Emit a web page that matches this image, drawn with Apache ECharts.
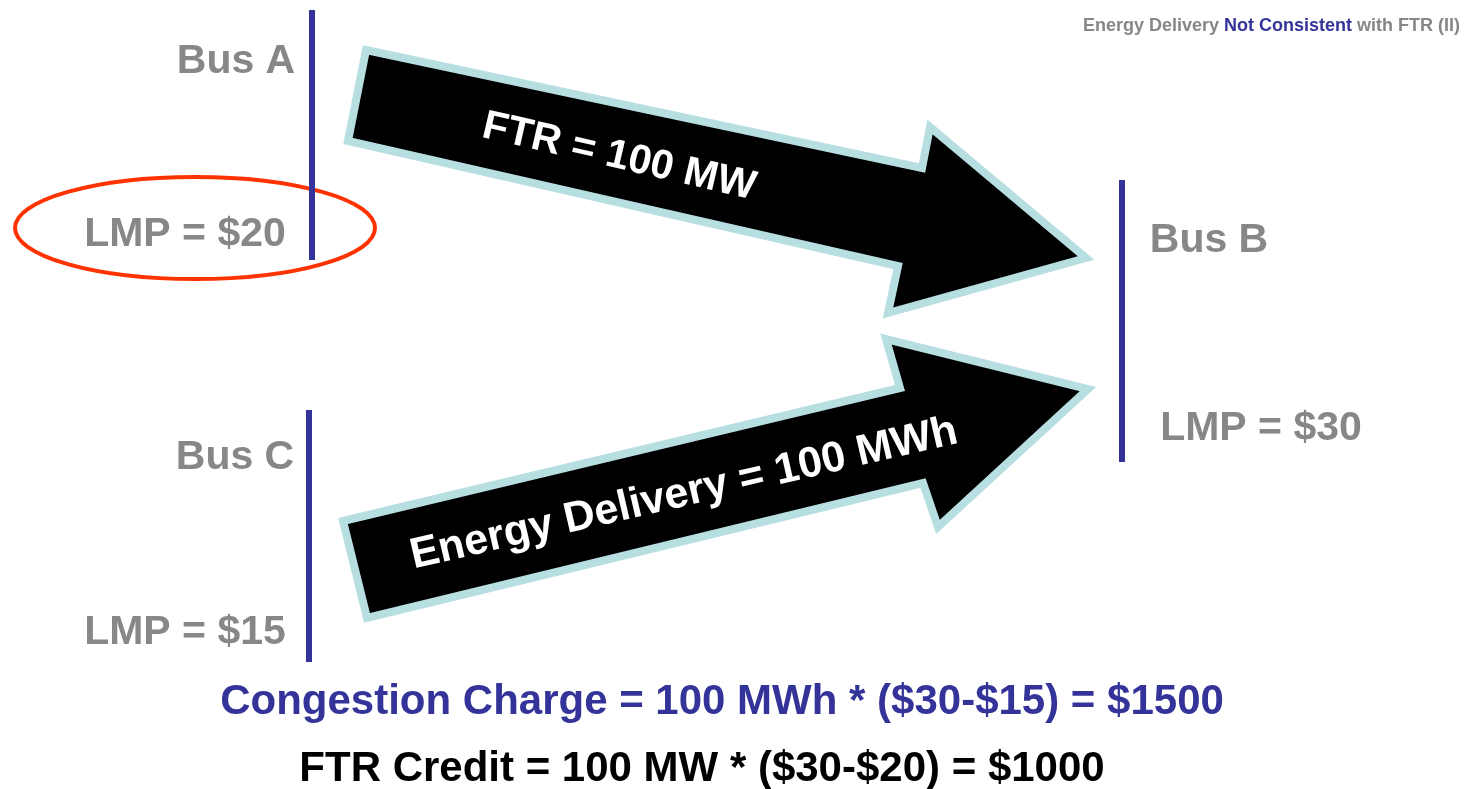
<!DOCTYPE html>
<html>
<head>
<meta charset="utf-8">
<script src="https://cdn.jsdelivr.net/npm/echarts@6/dist/echarts.min.js"></script>
<style>
  html, body { margin: 0; padding: 0; background: #fff; }
  #main { width: 1470px; height: 789px; }
</style>
</head>
<body>
<div id="main"></div>
<script>
    // buses and their prices
    var busNames = ['Bus A', 'Bus B', 'Bus C']
    var busLmp = [20, 30, 15]
    var busLineX = [312, 1122, 309]
    var busLineTop = [10, 180, 410]
    var busLineBottom = [260, 462, 662]
    var busNameAt = [[236, 62], [1209, 241], [235, 458]]
    var lmpAt = [[185, 235], [1261, 429], [185, 633]]

    // flows
    var ftrMW = 100
    var deliveryMWh = 100
    var ftrArrow = [[366, 50], [922, 168], [930, 127], [1086, 258], [888, 313], [898, 266], [348, 141]]
    var deliveryArrow = [[343, 521], [900, 388], [886, 339], [1088, 389], [938, 527], [923, 483], [367, 618]]
    var arrowLabelAt = [[619, 157], [684, 494]]
    var arrowLabelAngle = [-13, 13]

    // red ring round the source LMP: cx, cy, rx, ry
    var highlight = [195, 228, 180, 51]

    var FONT = "'Liberation Sans', Arial, sans-serif"
    var GRAY = '#878787'
    var BLUE = '#333399'

    var myChart = echarts.init(document.getElementById('main'))

    var arrows = [
        { pts: ftrArrow, text: 'FTR = ' + ftrMW + ' MW', size: 41 },
        { pts: deliveryArrow, text: 'Energy Delivery = ' + deliveryMWh + ' MWh', size: 43 }
    ]

    var congestion = deliveryMWh * (busLmp[1] - busLmp[2])
    var credit = ftrMW * (busLmp[1] - busLmp[0])

    var option = {
        animation: false,
        backgroundColor: '#fff',
        title: {
            right: 5,
            top: 12,
            text: '{g|Energy Delivery }{b|Not Consistent}{g| with FTR (II)}',
            textStyle: {
                rich: {
                    g: { color: GRAY, fontSize: 18, fontWeight: 'bold', fontFamily: FONT },
                    b: { color: BLUE, fontSize: 18, fontWeight: 'bold', fontFamily: FONT }
                }
            }
        },
        grid: { left: 0, right: 0, top: 0, bottom: 0 },
        xAxis: { type: 'value', min: 0, max: 1470, show: false },
        yAxis: { type: 'value', min: 0, max: 789, inverse: true, show: false },
        series: [
            {
                // red ellipse (under the bus bar)
                type: 'custom',
                name: 'highlight',
                data: [highlight],
                renderItem: function (params, api) {
                    var c = api.coord([api.value(0), api.value(1)])
                    var s = api.size([api.value(2), api.value(3)])
                    var rx = s[0], ry = s[1]
                    var d = 'M' + (c[0] - rx) + ' ' + c[1] +
                        ' A' + rx + ' ' + ry + ' 0 1 0 ' + (c[0] + rx) + ' ' + c[1] +
                        ' A' + rx + ' ' + ry + ' 0 1 0 ' + (c[0] - rx) + ' ' + c[1] + ' Z'
                    return {
                        type: 'path',
                        shape: { pathData: d },
                        style: { fill: 'none', stroke: '#ff3300', lineWidth: 4 }
                    }
                }
            },
            {
                // the two block arrows
                type: 'custom',
                name: 'flows',
                data: arrowLabelAt,
                renderItem: function (params, api) {
                    var a = arrows[params.dataIndex]
                    var c = api.coord([api.value(0), api.value(1)])
                    return {
                        type: 'group',
                        children: [
                            {
                                type: 'polygon',
                                shape: { points: a.pts.map(function (p) { return api.coord(p) }) },
                                style: { fill: '#000', stroke: '#b7dfe2', lineWidth: 8, lineJoin: 'miter' }
                            },
                            {
                                type: 'text',
                                x: c[0], y: c[1],
                                rotation: arrowLabelAngle[params.dataIndex] * Math.PI / 180,
                                style: {
                                    text: a.text, fill: '#fff',
                                    font: 'bold ' + a.size + 'px ' + FONT,
                                    align: 'center', verticalAlign: 'middle',
                                    textAlign: 'center', textVerticalAlign: 'middle'
                                }
                            }
                        ]
                    }
                }
            },
            {
                // bus bars + labels
                type: 'custom',
                name: 'buses',
                data: busLineX.map(function (x, i) { return [x, busLineTop[i], busLineBottom[i]] }),
                renderItem: function (params, api) {
                    var i = params.dataIndex
                    var p0 = api.coord([api.value(0), api.value(1)])
                    var p1 = api.coord([api.value(0), api.value(2)])
                    var n = api.coord(busNameAt[i])
                    var l = api.coord(lmpAt[i])
                    var txt = function (pos, s) {
                        return {
                            type: 'text', x: pos[0], y: pos[1],
                            style: {
                                text: s, fill: GRAY, font: 'bold 41px ' + FONT,
                                align: 'center', verticalAlign: 'middle',
                                textAlign: 'center', textVerticalAlign: 'middle'
                            }
                        }
                    }
                    return {
                        type: 'group',
                        children: [
                            { type: 'line', shape: { x1: p0[0], y1: p0[1], x2: p1[0], y2: p1[1] },
                              style: { stroke: BLUE, lineWidth: 6 } },
                            txt(n, busNames[i]),
                            txt(l, 'LMP = $' + busLmp[i])
                        ]
                    }
                }
            }
        ],
        graphic: [
            {
                type: 'text', x: 722, y: 702,
                style: {
                    text: 'Congestion Charge = ' + deliveryMWh + ' MWh * ($' + busLmp[1] + '-$' + busLmp[2] + ') = $' + congestion,
                    fill: BLUE, font: 'bold 42px ' + FONT,
                    align: 'center', verticalAlign: 'middle', textAlign: 'center', textVerticalAlign: 'middle'
                }
            },
            {
                type: 'text', x: 702, y: 769,
                style: {
                    text: 'FTR Credit = ' + ftrMW + ' MW * ($' + busLmp[1] + '-$' + busLmp[0] + ') = $' + credit,
                    fill: '#000', font: 'bold 42px ' + FONT,
                    align: 'center', verticalAlign: 'middle', textAlign: 'center', textVerticalAlign: 'middle'
                }
            }
        ]
    }

    myChart.setOption(option)
</script>
</body>
</html>
